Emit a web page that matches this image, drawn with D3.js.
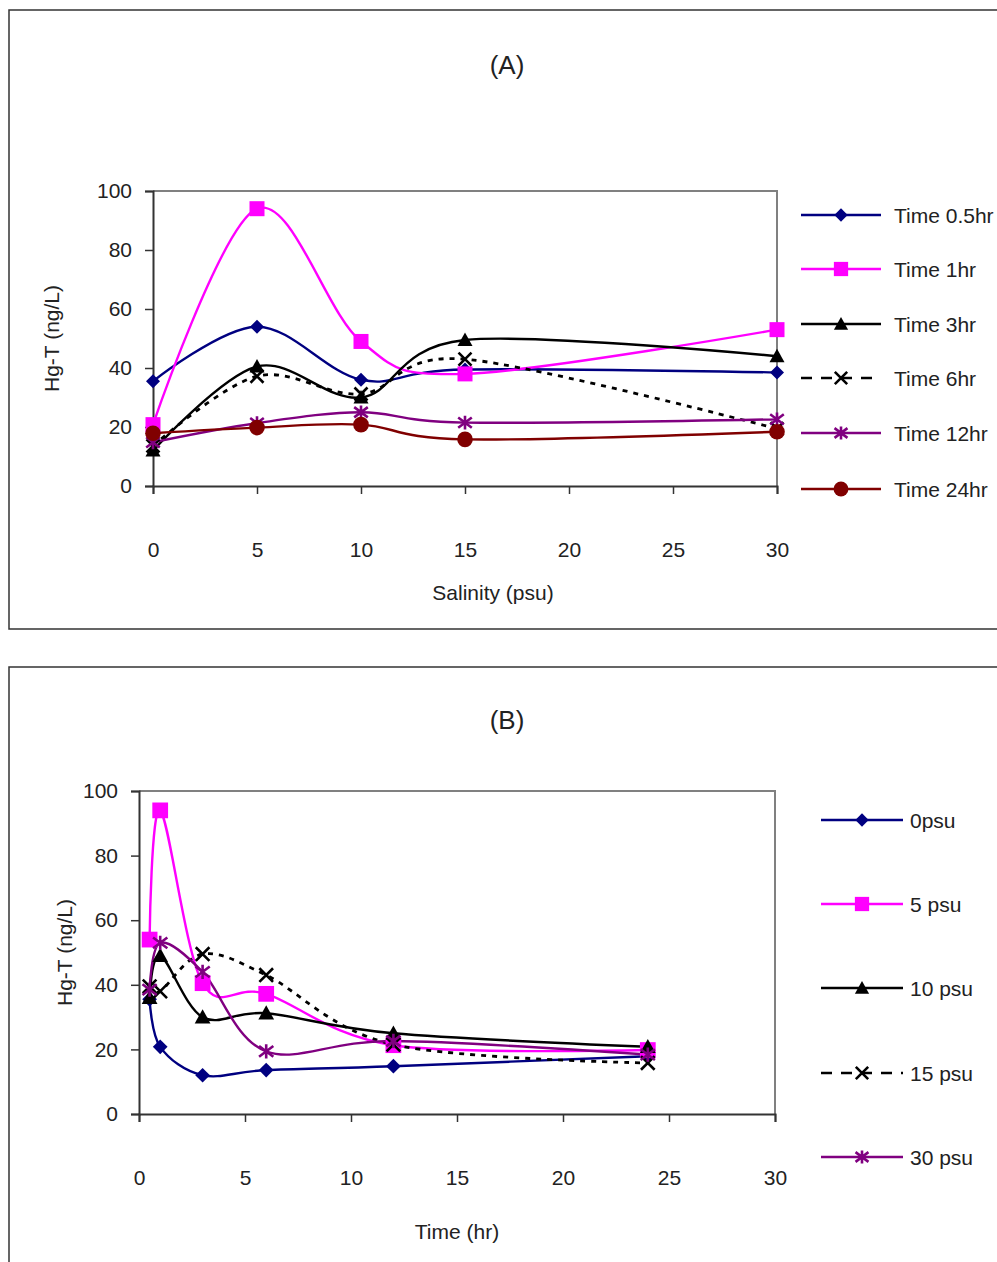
<!DOCTYPE html>
<html><head><meta charset="utf-8">
<script src="https://cdn.jsdelivr.net/npm/d3@7/dist/d3.min.js"></script>
<style>
body{margin:0;background:#fff;}
svg{display:block;}
text{font-family:"Liberation Sans",Arial,sans-serif;fill:#222;}
</style></head><body>
<svg id="c" width="997" height="1262"></svg>
<script>
// ---------- data ----------
const salinity = [0, 5, 10, 15, 30];               // psu
const times = [0.5, 1, 3, 6, 12, 24];              // hr
const timeLabels = ["Time 0.5hr","Time 1hr","Time 3hr","Time 6hr","Time 12hr","Time 24hr"];
const psuLabels = ["0psu","5 psu","10 psu","15 psu","30 psu"];
// Hg-T (ng/L) at each salinity, one array per time
const hgT_05hr = [35.5, 54.0, 36.0, 39.5, 38.5];
const hgT_1hr  = [20.8, 94.0, 49.0, 38.0, 53.0];
const hgT_3hr  = [12.0, 40.5, 30.0, 49.5, 44.0];
const hgT_6hr  = [13.6, 37.2, 31.2, 43.0, 19.4];
const hgT_12hr = [14.8, 21.3, 25.0, 21.5, 22.6];
const hgT_24hr = [17.9, 19.8, 20.8, 15.8, 18.4];
const yTicks = [0, 20, 40, 60, 80, 100];
const xTicksA = [0, 5, 10, 15, 20, 25, 30];
const xTicksB = [0, 5, 10, 15, 20, 25, 30];

const byTime = [hgT_05hr, hgT_1hr, hgT_3hr, hgT_6hr, hgT_12hr, hgT_24hr];

// ---------- styles ----------
const stylesA = [
  {color:"#000080", marker:"diamond"},
  {color:"#FF00FF", marker:"square"},
  {color:"#000000", marker:"triangle"},
  {color:"#000000", marker:"x", dash:true},
  {color:"#800080", marker:"asterisk"},
  {color:"#800000", marker:"circle"}
];
const stylesB = stylesA.slice(0,5);

const svg = d3.select("#c");

function drawMarker(g, type, color, x, y, s){
  s = s || 1;
  if(type==="diamond"){
    const r=7*s;
    g.append("path").attr("d",`M${x},${y-r}L${x+r},${y}L${x},${y+r}L${x-r},${y}Z`).attr("fill",color);
  } else if(type==="square"){
    const r=7.5*s;
    g.append("rect").attr("x",x-r).attr("y",y-r).attr("width",2*r).attr("height",2*r).attr("fill",color);
  } else if(type==="triangle"){
    const r=7.5*s;
    g.append("path").attr("d",`M${x},${y-r}L${x+r},${y+r*0.8}L${x-r},${y+r*0.8}Z`).attr("fill",color);
  } else if(type==="x"){
    const r=6.5*s;
    g.append("path").attr("d",`M${x-r},${y-r}L${x+r},${y+r}M${x+r},${y-r}L${x-r},${y+r}`).attr("stroke",color).attr("stroke-width",2.6).attr("fill","none");
  } else if(type==="asterisk"){
    const r=6.8*s;
    g.append("path").attr("d",`M${x-r},${y-r*0.75}L${x+r},${y+r*0.75}M${x+r},${y-r*0.75}L${x-r},${y+r*0.75}M${x},${y-r}L${x},${y+r}`).attr("stroke",color).attr("stroke-width",2.6).attr("fill","none");
  } else if(type==="circle"){
    g.append("circle").attr("cx",x).attr("cy",y).attr("r",7.8*s).attr("fill",color);
  }
}

function chart(opt){
  const g = svg.append("g");
  // outer frame
  g.append("path").attr("d",`M1000,${opt.frame[0]}H9V${opt.frame[1]}H1000`).attr("fill","none").attr("stroke","#333").attr("stroke-width",1.5);
  const x = d3.scaleLinear().domain([0,30]).range([opt.x0,opt.x1]);
  const y = d3.scaleLinear().domain([0,100]).range([opt.y0,opt.y1]);
  // plot border (gray top/right)
  g.append("path").attr("d",`M${opt.x0},${opt.y1}H${opt.x1}V${opt.y0}`).attr("fill","none").attr("stroke","#808080").attr("stroke-width",2);
  // y axis
  const ya = g.append("g").attr("transform",`translate(${opt.x0},0)`)
    .call(d3.axisLeft(y).tickValues(yTicks).tickSize(8).tickPadding(13).tickFormat(d3.format("d")));
  ya.select(".domain").attr("stroke","#333").attr("stroke-width",2);
  ya.selectAll(".tick line").attr("stroke","#333").attr("stroke-width",1.5);
  ya.selectAll(".tick text").style("font-size","21px").attr("fill","#222");
  // x axis
  const xa = g.append("g").attr("transform",`translate(0,${opt.y0})`)
    .call(d3.axisBottom(x).tickValues(opt.xt).tickSize(8).tickPadding(opt.xpad).tickFormat(d3.format("d")));
  xa.select(".domain").attr("stroke","#333").attr("stroke-width",2);
  xa.selectAll(".tick line").attr("stroke","#333").attr("stroke-width",1.5);
  xa.selectAll(".tick text").style("font-size","21px").attr("fill","#222");
  // titles
  g.append("text").attr("x",507).attr("y",opt.titleY).attr("text-anchor","middle").style("font-size","26px").text(opt.title);
  g.append("text").attr("x",opt.xlabX).attr("y",opt.xlabY).attr("text-anchor","middle").style("font-size","21px").text(opt.xlab);
  g.append("text").attr("transform",`translate(${opt.ylabX},${(opt.y0+opt.y1)/2}) rotate(-90)`).attr("text-anchor","middle").style("font-size","21px").text("Hg-T (ng/L)");
  // series
  const line = d3.line().x(d=>x(d[0])).y(d=>y(d[1])).curve(d3.curveCardinal.tension(0));
  opt.series.forEach((s,i)=>{
    const st = opt.styles[i];
    g.append("path").attr("d",line(s)).attr("fill","none").attr("stroke",st.color)
      .attr("stroke-width",st.dash?2.8:2.4)
      .attr("stroke-dasharray",st.dash?"5,6":null);
  });
  opt.series.forEach((s,i)=>{
    const st = opt.styles[i];
    s.forEach(d=>drawMarker(g, st.marker, st.color, x(d[0]), y(d[1]), opt.ms));
  });
  // legend
  opt.labels.forEach((lab,i)=>{
    const st = opt.styles[i];
    const ly = opt.legY[i];
    g.append("line").attr("x1",opt.legX0).attr("x2",opt.legX1).attr("y1",ly).attr("y2",ly)
      .attr("stroke",st.color).attr("stroke-width",2.4).attr("stroke-dasharray",st.dash?"11,9":null);
    drawMarker(g, st.marker, st.color, (opt.legX0+opt.legX1)/2, ly, 0.95);
    g.append("text").attr("x",opt.legText).attr("y",ly+8).style("font-size","21px").text(lab);
  });
}

// Chart A: x = salinity, one series per time
chart({
  frame:[10,629], x0:153, x1:777, y0:486, y1:191, xt:xTicksA, xpad:48,
  title:"(A)", titleY:74, xlab:"Salinity (psu)", xlabX:493, xlabY:600, ylabX:59,
  series: byTime.map(arr=>salinity.map((s,j)=>[s,arr[j]])),
  styles: stylesA, labels: timeLabels, ms:1,
  legX0:801, legX1:881, legText:894, legY:[215,269,324,378,433,489]
});

// Chart B: x = time, one series per salinity
chart({
  frame:[667,1270], x0:139, x1:775, y0:1114, y1:791, xt:xTicksB, xpad:48,
  title:"(B)", titleY:729, xlab:"Time (hr)", xlabX:457, xlabY:1239, ylabX:72,
  series: salinity.map((s,j)=>times.map((t,i)=>[t,byTime[i][j]])),
  styles: stylesB, labels: psuLabels, ms:1.05,
  legX0:821, legX1:903, legText:910, legY:[820,904,988,1073,1157]
});
</script>
</body></html>
